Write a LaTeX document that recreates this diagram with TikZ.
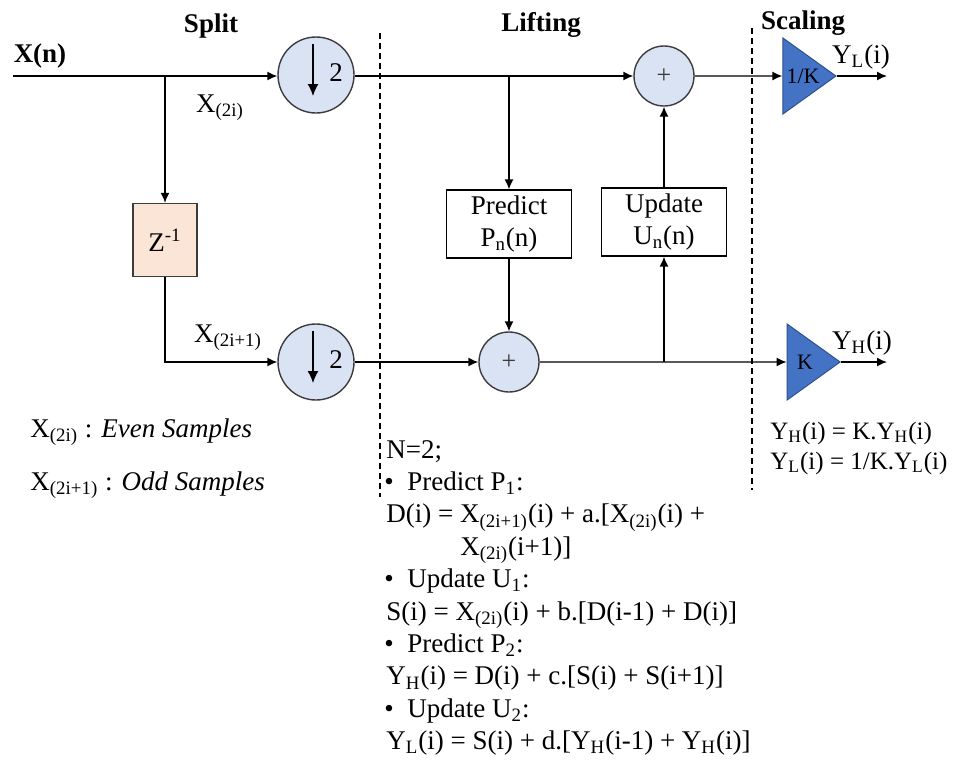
\documentclass[tikz,border=0pt]{standalone}
\usepackage{fontspec}
\setmainfont{Liberation Serif}
\usetikzlibrary{
    arrows.meta,
    positioning,
    shapes.geometric
}
\definecolor{sampfill}{RGB}{218,227,243}
\definecolor{delayfill}{RGB}{251,229,214}
\definecolor{gainfill}{RGB}{68,114,196}
\definecolor{gainedge}{RGB}{47,82,143}
\definecolor{darkgray}{RGB}{60,60,60}
\newcommand{\mainsize}{\fontsize{13.5}{16}\selectfont}
\tikzset{
    arrow/.style={
        -{Latex[length=5pt,width=4.5pt]},
        line width=0.7pt,
        draw=black
    },
    downsample/.style={
        circle,
        draw=darkgray,
        fill=sampfill,
        minimum size=38pt,
        inner sep=0pt,
        line width=0.7pt,
        path picture={
            \draw[arrow, -{Latex[length=6pt,width=5.5pt]}] ([xshift=-1.5pt,yshift=15.5pt]path picture bounding box.center) -- ++(0,-26pt);
        }
    },
    adder/.style={
        circle,
        draw=darkgray,
        fill=sampfill,
        minimum size=30pt,
        inner sep=0pt,
        text=darkgray,
        font=\fontsize{13}{14}\selectfont,
        line width=0.7pt
    },
    liftbox/.style={
        rectangle,
        draw=black,
        minimum width=62.5pt,
        minimum height=34pt,
        inner sep=1pt,
        align=center,
        line width=0.6pt
    },
    delay/.style={
        rectangle,
        draw=darkgray,
        fill=delayfill,
        minimum width=32pt,
        minimum height=36.5pt,
        line width=0.7pt
    },
    gain/.style={
        isosceles triangle,
        isosceles triangle stretches,
        draw=gainedge,
        fill=gainfill,
        inner sep=0pt,
        minimum width=38pt,
        minimum height=26.5pt,
        font=\fontsize{11}{12}\selectfont,
        line width=0.5pt
    },
    stageline/.style={
        densely dashed,
        line width=0.6pt,
        draw=black
    }
}

\begin{document}
\begin{tikzpicture}[x=0.5pt, y=-0.5pt, font=\mainsize]
    \useasboundingbox (0,0) rectangle (958,762);

    % Stage titles
    \node[font=\mainsize\bfseries] (split) at (211,26) {Split};
    \node[font=\mainsize\bfseries] (lifting) at (541,25) {Lifting};
    \node[font=\mainsize\bfseries] (scaling) at (803,23) {Scaling};

    % Stage dividers
    \coordinate (div1top) at (380,33);
    \coordinate (div1bot) at (380,497);
    \coordinate (div2top) at (752,28);
    \coordinate (div2bot) at (752,490);
    \draw[stageline] (div1top) -- (div1bot);
    \draw[stageline] (div2top) -- (div2bot);

    % Split
    \node[font=\mainsize\bfseries] (xnlabel) at (40,56) {X(n)};
    \coordinate (xin) at (13,76);
    \coordinate (br1) at (165,76);
    \node[downsample] (ds1) at (316,75) {\kern20pt\raisebox{2pt}{2}};
    \node[delay] (zdelay) at (165,240) {Z\textsuperscript{-1}};
    \node[downsample] (ds2) at (316,362) {\kern20pt\raisebox{2pt}{2}};
    \node (evenlabel) at (220,108) {X\textsubscript{(2i)}};
    \node (oddlabel) at (228,338) {X\textsubscript{(2i+1)}};

    % Lifting
    \coordinate (br2) at (509,76);
    \coordinate (br3) at (664,362);
    \node[liftbox] (pred) at (509,224) {Predict\\P\textsubscript{n}(n)};
    \node[liftbox] (upd) at (664,222) {Update\\U\textsubscript{n}(n)};
    \node[adder] (addbot) at (509,362) {+};
    \node[adder] (addtop) at (664,76) {+};

    % Scaling
    \node[gain] (gainL) at (803,76) {1/K};
    \node[gain] (gainH) at (805,362) {K};
    \coordinate (outL) at (887,76);
    \coordinate (outH) at (887,362);
    \node (ylabel) at (861,57) {Y\textsubscript{L}(i)};
    \node (yhlabel) at (862,343) {Y\textsubscript{H}(i)};

    % Arrows
    \draw[arrow] (xin) -- (ds1.west |- xin);
    \draw[arrow] (br1) -- (zdelay);
    \draw[arrow] (zdelay) |- (ds2);
    \draw[arrow] (ds1.east |- br2) -- (addtop);
    \draw[arrow] (br2) -- (pred);
    \draw[arrow] (pred) -- (addbot);
    \draw[arrow] (ds2) -- (addbot);
    \draw[arrow] (addbot) -- (gainH);
    \draw[arrow] (br3) -- (upd);
    \draw[arrow] (upd) -- (addtop);
    \draw[arrow] (addtop) -- (gainL);
    \draw[arrow] (gainL.apex) -- (outL);
    \draw[arrow] (gainH.apex) -- (outH);

    % Notes
    \node[anchor=west, inner sep=0pt] (evennote) at (30,432) {X\textsubscript{(2i)} : \textit{Even Samples}};
    \node[anchor=west, inner sep=0pt] (oddnote) at (30,485) {X\textsubscript{(2i+1)} : \textit{Odd Samples}};
    \node[anchor=west, inner sep=0pt, font=\fontsize{12.5}{14}\selectfont] (scaleH) at (770,433) {Y\textsubscript{H}(i) = K.Y\textsubscript{H}(i)};
    \node[anchor=west, inner sep=0pt, font=\fontsize{12.5}{14}\selectfont] (scaleL) at (770,463) {Y\textsubscript{L}(i) = 1/K.Y\textsubscript{L}(i)};

    % Lifting steps
    \foreach \xpos/\txt [count=\k from 0] in {
        386/{N=2;},
        384/{\textbullet\ \ Predict P\textsubscript{1}:},
        386/{D(i) = X\textsubscript{(2i+1)}(i) + a.[X\textsubscript{(2i)}(i) +},
        460/{X\textsubscript{(2i)}(i+1)]},
        384/{\textbullet\ \ Update U\textsubscript{1}:},
        386/{S(i) = X\textsubscript{(2i)}(i) + b.[D(i-1) + D(i)]},
        384/{\textbullet\ \ Predict P\textsubscript{2}:},
        386/{Y\textsubscript{H}(i) = D(i) + c.[S(i) + S(i+1)]},
        384/{\textbullet\ \ Update U\textsubscript{2}:},
        386/{Y\textsubscript{L}(i) = S(i) + d.[Y\textsubscript{H}(i-1) + Y\textsubscript{H}(i)]}%
    } {
        \node[anchor=base west, inner sep=0pt] (step\k) at (\xpos,458+32.4*\k) {\txt};
    }
\end{tikzpicture}
\end{document}
